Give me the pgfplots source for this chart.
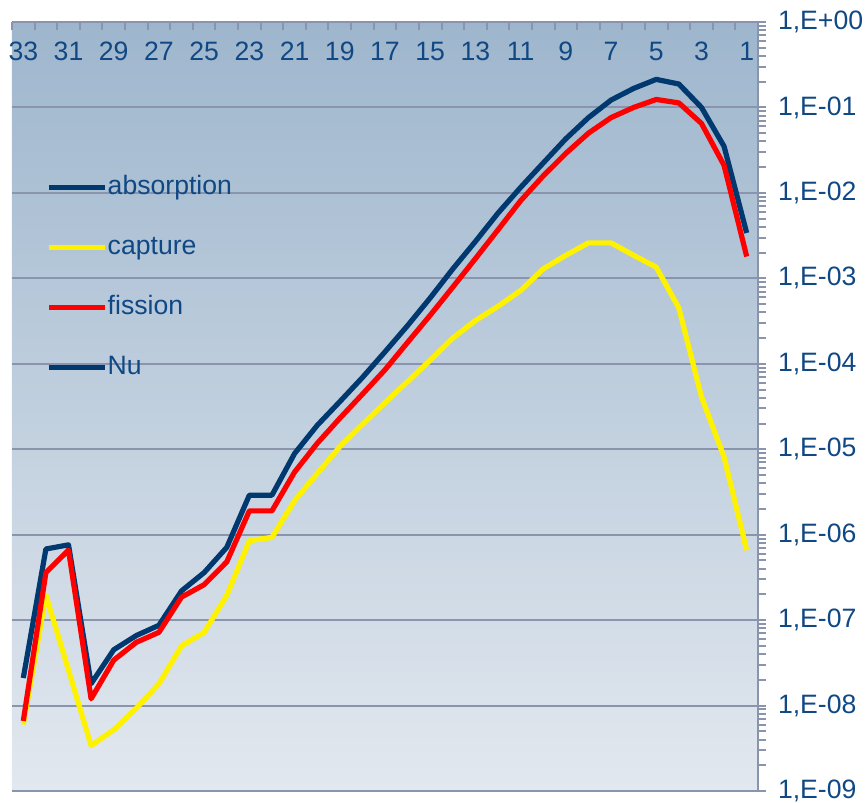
\documentclass[border=0pt]{standalone}
\usepackage{pgfplots}
\pgfplotsset{compat=1.18}
\usepackage{fontspec}
\setmainfont{Liberation Sans}
\definecolor{labelblue}{RGB}{16,72,132}
\definecolor{absblue}{RGB}{0,56,112}
\definecolor{gridgray}{RGB}{138,148,172}
\definecolor{bgtop}{RGB}{158,182,205}
\definecolor{bgbottom}{RGB}{226,232,239}

% group, absorption, capture, fission
\pgfplotstableread{
g  abs      cap      fis
33 2.1e-8   6.0e-9   6.6e-9
32 6.8e-7   1.95e-7  3.6e-7
31 7.6e-7   2.6e-8   6.6e-7
30 1.8e-8   3.4e-9   1.2e-8
29 4.5e-8   5.2e-9   3.4e-8
28 6.6e-8   9.3e-9   5.5e-8
27 8.7e-8   1.8e-8   7.2e-8
26 2.2e-7   5.0e-8   1.86e-7
25 3.6e-7   7.2e-8   2.6e-7
24 7.1e-7   1.95e-7  4.8e-7
23 2.9e-6   8.5e-7   1.9e-6
22 2.9e-6   9.3e-7   1.9e-6
21 8.9e-6   2.5e-6   5.4e-6
20 1.9e-5   5.2e-6   1.17e-5
19 3.6e-5   1.07e-5  2.3e-5
18 6.9e-5   1.95e-5  4.4e-5
17 1.38e-4  3.5e-5   8.5e-5
16 2.8e-4   6.2e-5   1.78e-4
15 5.9e-4   1.1e-4   3.7e-4
14 1.29e-3  2.0e-4   7.9e-4
13 2.7e-3   3.2e-4   1.7e-3
12 5.8e-3   4.7e-4   3.7e-3
11 1.16e-2  7.2e-4   8.1e-3
10 2.24e-2  1.29e-3  1.58e-2
9  4.3e-2   1.86e-3  2.9e-2
8  7.6e-2   2.6e-3   5.0e-2
7  0.122    2.6e-3   7.6e-2
6  0.167    1.86e-3  0.100
5  0.213    1.35e-3  0.124
4  0.188    4.5e-4   0.113
3  0.100    4.1e-5   6.5e-2
2  3.5e-2   8.1e-6   2.1e-2
1  3.4e-3   6.6e-7   1.8e-3
}\xs

\begin{document}
\begin{tikzpicture}[font=\fontsize{13.3}{16}\selectfont]
\begin{axis}[
  scale only axis, width=373pt, height=384.5pt,
  x dir=reverse, xmin=0.5, xmax=33.5,
  ymode=log, ymin=1e-9, ymax=1,
  axis x line*=top, axis y line*=right,
  axis line style={gridgray, line width=1pt},
  axis background/.style={top color=bgtop, bottom color=bgbottom},
  xtick={1,3,...,33},
  minor xtick={0.5,1.5,...,33.5},
  major x tick style={draw=none},
  minor x tick style={gridgray, line width=1pt, yshift=-4pt},
  minor tick length=4pt,
  major tick length=4pt,
  tick align=outside,
  ytick={1e-9,1e-8,1e-7,1e-6,1e-5,1e-4,1e-3,1e-2,1e-1,1},
  yticklabels={{1,E-09},{1,E-08},{1,E-07},{1,E-06},{1,E-05},{1,E-04},{1,E-03},{1,E-02},{1,E-01},{1,E+00}},
  ytick style={gridgray, line width=1pt},
  ymajorgrids, grid style={gridgray, line width=1pt},
  tick label style={text=labelblue},
  xticklabel style={anchor=center, yshift=-18.5pt},
  yticklabel style={xshift=2.5pt},
  /pgf/number format/assume math mode=true,
  legend style={at={(axis description cs:0.0455,0.802)}, anchor=north west,
    draw=none, fill=none, inner sep=0pt, row sep=17pt, column sep=0.5pt,
    text=labelblue, nodes={inner sep=0pt, text height=10pt, text depth=3pt}},
  legend cell align=left,
  legend image code/.code={\draw[#1, line width=2.2pt] (0pt,0pt) -- (28pt,0pt);},
]
\addplot[absblue, line width=2.6pt, line join=round] table[x=g, y=abs] {\xs};
\addplot[yellow, line width=2.6pt, line join=round] table[x=g, y=cap] {\xs};
\addplot[red, line width=2.6pt, line join=round] table[x=g, y=fis] {\xs};
\addlegendimage{absblue, line width=2.6pt}
\legend{absorption,capture,fission,Nu}
\coordinate (bl) at (axis description cs:0,0);
\coordinate (tr) at (axis description cs:1,1);
\end{axis}
\pgfresetboundingbox
\path[use as bounding box] ([shift={(-6pt,-6pt)}]bl) rectangle ([shift={(55pt,11pt)}]tr);
\end{tikzpicture}
\end{document}
